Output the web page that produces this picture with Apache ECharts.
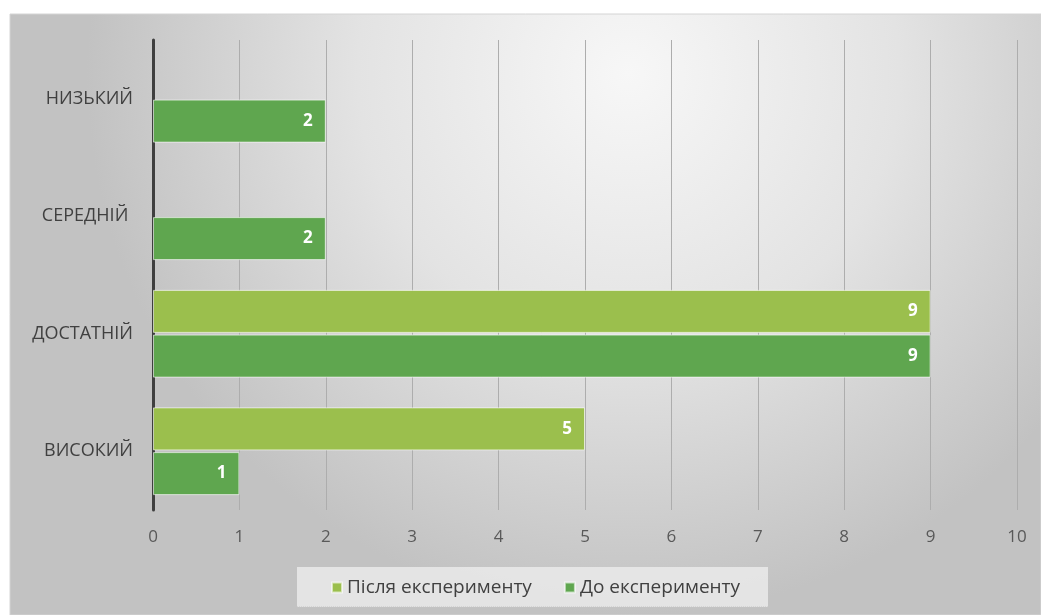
<!DOCTYPE html>
<html><head><meta charset="utf-8">
<script src="https://cdn.jsdelivr.net/npm/echarts@6/dist/echarts.min.js"></script>
<style>html,body{margin:0;padding:0;background:#fff}#c{width:1041px;height:615px}</style>
</head><body><div id="c"></div>
<script>
const categories = ['ВИСОКИЙ', 'ДОСТАТНІЙ', 'СЕРЕДНІЙ ', 'НИЗЬКИЙ'];
const seriesNames = ['Після експерименту', 'До експерименту'];
const afterValues = [5, 9, null, null];
const beforeValues = [1, 9, 2, 2];
const xTicks = [0, 1, 2, 3, 4, 5, 6, 7, 8, 9, 10];

const chart = echarts.init(document.getElementById('c'), null, {renderer: 'canvas'});
const font = '"Open Sans", "Noto Sans", sans-serif';
const labelCfg = {show: true, position: 'insideRight', distance: 13, color: '#fff', fontWeight: 'bold', fontSize: 17, fontFamily: font};
chart.setOption({
  backgroundColor: '#ffffff',
  animation: false,
  graphic: [{
    type: 'rect', z: -10, silent: true,
    shape: {x: 10, y: 14, width: 1031, height: 601},
    style: {
      fill: new echarts.graphic.RadialGradient(0.6, 0.1, 0.9, [
        {offset: 0, color: '#f7f7f7'},
        {offset: 0.5, color: '#e3e3e3'},
        {offset: 1, color: '#c2c2c2'}
      ]),
      stroke: '#d4d4d4', lineWidth: 1
    }
  }, {
    type: 'rect', z: -5, silent: true,
    shape: {x: 297, y: 567, width: 471, height: 40},
    style: {fill: 'rgba(232,232,232,0.9)', stroke: null}
  }, {
    type: 'line', z: -4, silent: true,
    shape: {x1: 297, y1: 607, x2: 768, y2: 607},
    style: {stroke: '#c4c4c4', lineWidth: 1, lineDash: [1, 1]}
  }],
  grid: {left: 153, right: 24, top: 40, bottom: 105, containLabel: false},
  legend: {
    data: seriesNames,
    top: 573, left: 326,
    icon: 'rect', itemWidth: 10, itemHeight: 10, itemGap: 32,
    textStyle: {color: '#404040', fontSize: 19, fontFamily: font}
  },
  xAxis: {
    type: 'value', min: 0, max: 10, interval: 1,
    axisLine: {show: false}, axisTick: {show: false},
    axisLabel: {color: '#595959', fontSize: 17, fontFamily: font, margin: 19,
      formatter: v => String(xTicks[xTicks.indexOf(v)])},
    splitLine: {show: true, lineStyle: {color: '#adadad', width: 1}}
  },
  yAxis: {
    type: 'category', data: categories,
    axisLine: {show: true, lineStyle: {color: '#3f3f3f', width: 3}},
    axisTick: {show: false},
    axisLabel: {color: '#404040', fontSize: 18, fontFamily: font, margin: 20}
  },
  series: [{
    name: seriesNames[0], type: 'bar', data: afterValues,
    barWidth: 43, barGap: '4%',
    itemStyle: {color: '#9bbf4d', borderColor: 'rgba(255,255,255,0.6)', borderWidth: 1},
    label: labelCfg
  }, {
    name: seriesNames[1], type: 'bar', data: beforeValues,
    barWidth: 43,
    itemStyle: {color: '#5fa64f', borderColor: 'rgba(255,255,255,0.6)', borderWidth: 1},
    label: labelCfg
  }]
});
</script></body></html>
